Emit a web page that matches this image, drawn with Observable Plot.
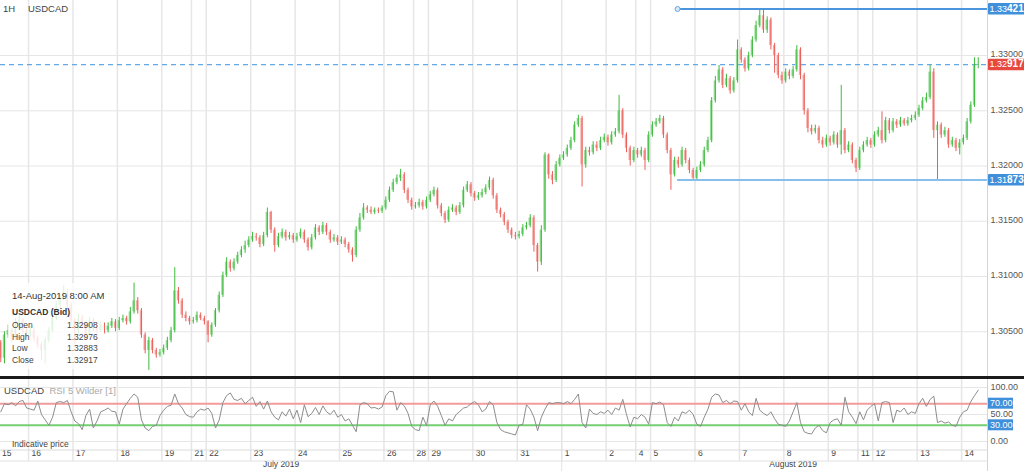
<!DOCTYPE html>
<html><head><meta charset="utf-8">
<script src="https://cdn.jsdelivr.net/npm/d3@7"></script>
<script src="https://cdn.jsdelivr.net/npm/@observablehq/plot@0.6"></script>
<style>
html,body{margin:0;padding:0;background:#fff;}
#chart{width:1024px;height:471px;overflow:hidden;position:relative;background:#fff;}
#sep{height:3px;background:#1b1b1b;}
svg{display:block}
</style></head><body><div id="chart"></div>
<script>
// ---------- DATA (2-hour slots, prices in pips above 1.3000) ----------
const pipBase = 1.3, pipSize = 0.0001;
const opens = [40,26,47,51,44,56,60,51,47,51,44,38,33,42,51,62,74,80,86,74,60,51,62,56,47,60,53,51,56,51,55,59,53,60,62,59,68,78,69,47,33,42,33,29,31,35,42,51,87,78,65,62,59,60,65,62,59,47,56,69,83,101,113,107,113,119,124,128,133,136,135,129,137,158,142,128,136,140,135,137,133,136,140,133,126,135,144,140,146,140,133,135,131,133,129,124,119,142,153,162,160,158,160,159,162,169,178,185,189,192,178,169,163,164,167,163,169,174,178,164,157,151,160,162,158,164,178,183,175,171,173,176,180,187,173,160,156,149,142,137,136,138,144,146,153,128,113,142,210,192,187,201,207,210,216,223,237,243,201,214,212,219,216,223,226,221,228,231,250,228,216,205,214,210,214,205,228,237,240,243,228,214,192,205,201,214,205,196,189,196,201,214,223,259,277,287,273,279,268,277,305,296,288,300,314,327,336,323,332,309,300,282,277,285,281,287,305,282,250,234,231,234,223,219,225,221,228,219,232,214,219,205,198,214,219,223,219,228,232,223,241,232,240,237,241,238,241,243,246,252,259,262,285,232,237,228,232,219,223,216,221,225,240,255,291];
const closes = [26,47,51,44,56,60,51,47,51,44,38,33,42,51,62,74,80,86,74,60,51,62,56,47,60,53,51,56,51,55,59,53,60,62,59,68,78,69,47,33,42,33,29,31,35,42,51,87,78,65,62,59,60,65,62,59,47,56,69,83,101,113,107,113,119,124,128,133,136,135,129,137,158,142,128,136,140,135,137,133,136,140,133,126,135,144,140,146,140,133,135,131,133,129,124,119,142,153,162,160,158,160,159,162,169,178,185,189,192,178,169,163,164,167,163,169,174,178,164,157,151,160,162,158,164,178,183,175,171,173,176,180,187,173,160,156,149,142,137,136,138,144,146,153,128,113,142,210,192,187,201,207,210,216,223,237,243,201,214,212,219,216,223,226,221,228,231,250,228,216,205,214,210,214,205,228,237,240,243,228,214,192,205,201,214,205,196,189,196,201,214,223,259,277,287,273,279,268,277,305,296,288,300,314,327,336,323,332,309,300,282,277,285,281,287,305,282,250,234,231,234,223,219,225,221,228,219,232,214,219,205,198,214,219,223,219,228,232,223,241,232,240,237,241,238,241,243,246,252,259,262,285,232,237,228,232,219,223,216,221,225,240,255,291,292];
const highs = [42,50,56,53,62,66,62,54,55,53,46,40,45,54,65,77,84,92,88,76,62,66,65,58,63,62,56,59,58,58,62,61,63,65,64,72,94,81,71,49,45,44,35,34,38,45,54,108,90,80,68,64,63,68,67,64,60,58,71,86,104,117,115,116,122,127,132,136,140,139,137,140,162,159,144,139,143,142,140,139,139,143,142,135,138,147,146,149,148,142,138,137,136,135,131,126,145,157,166,164,163,162,162,164,172,181,188,192,197,194,180,171,167,170,169,172,177,181,180,166,159,163,165,164,167,181,186,185,177,176,179,183,190,189,175,162,158,151,144,140,141,147,149,156,155,130,146,212,211,195,204,210,213,219,226,240,246,245,217,217,222,222,226,229,228,231,234,264,252,230,218,217,216,217,216,231,240,243,246,245,230,216,208,208,217,216,207,198,199,204,217,226,262,281,291,289,283,281,280,314,307,298,303,317,331,342,342,335,334,311,302,285,288,287,290,309,307,284,252,237,237,236,226,228,227,231,230,273,234,222,221,207,217,222,226,225,231,235,249,244,243,243,242,244,243,244,246,249,255,262,266,291,288,240,239,235,234,226,225,224,228,243,258,298,298];
const lows = [22,21,44,40,42,52,48,44,45,41,35,24,21,40,49,60,71,78,71,57,38,48,53,44,45,50,48,49,48,49,53,50,51,58,56,57,66,66,44,30,15,30,26,27,29,33,40,49,75,62,59,56,57,58,60,56,40,45,54,67,81,99,104,105,111,117,121,126,131,132,126,127,135,139,122,126,134,132,133,130,131,134,130,123,124,133,137,138,137,130,131,128,129,126,121,113,117,140,151,157,156,156,157,157,160,167,176,183,186,175,166,160,161,162,160,161,167,172,161,154,148,149,158,155,156,162,176,172,168,169,171,174,178,170,157,153,146,139,134,133,134,136,142,144,122,104,110,140,188,183,185,199,205,208,214,221,235,181,198,209,210,213,214,221,218,219,226,229,225,212,200,203,207,208,196,203,226,235,238,225,211,178,190,198,199,202,193,186,187,194,199,212,221,257,275,270,271,265,266,275,293,285,286,298,312,325,320,320,305,284,279,274,275,278,279,285,278,246,230,228,229,220,216,217,218,219,216,210,211,212,202,194,196,212,217,216,217,226,220,221,229,230,234,235,236,236,239,241,244,250,257,260,225,187,225,226,216,217,213,210,219,223,238,253,288];
const rsiValues = [55,70,68,72,66,74,76,62,60,58,75,50,40,30,45,72,74,72,76,55,38,33,22,48,60,25,38,55,58,62,56,55,32,60,70,80,88,82,40,25,20,28,30,48,58,65,67,88,70,62,50,46,45,55,60,58,62,52,25,40,72,85,90,78,76,80,70,76,82,65,74,60,75,55,45,40,55,47,60,42,58,35,68,46,52,63,50,66,55,50,58,45,50,38,42,30,18,68,72,70,62,63,60,64,85,93,92,58,72,66,52,28,22,20,45,30,68,75,65,48,30,42,38,50,56,62,64,70,74,68,55,60,74,68,35,22,18,16,14,12,30,32,68,60,45,20,45,60,72,70,72,72,70,74,70,78,88,35,25,60,52,50,55,52,58,50,62,58,78,50,27,45,42,50,45,32,72,70,73,68,35,28,45,38,55,52,58,50,32,28,45,60,82,88,86,72,76,70,75,74,58,70,55,48,80,58,52,48,55,42,32,30,28,38,55,72,35,18,15,14,25,30,20,16,35,40,42,30,82,55,45,33,55,40,58,65,70,38,72,74,72,35,58,55,62,50,55,52,70,80,65,78,84,35,38,34,36,30,28,45,55,58,74,85,95];
const dayLabels = ["15","16","17","18","19","21","22","23","24","25","26","28","29","30","31","1","2","4","5","6","7","8","9","11","12","13","14"];
const dayStarts = [0,8,20,32,44,52,56,68,80,92,104,112,116,128,140,152,164,172,176,188,200,212,224,232,236,248,260];
const monthLabels = ["July 2019","August 2019"];
const monthSpans = [[0.43,152],[152,277]];
const priceTicks = [1.305,1.31,1.315,1.32,1.325,1.33];
const priceTickLabels = ["1.30500","1.31000","1.31500","1.32000","1.32500","1.33000"];
const levelPrices = [1.33421, 1.31873];
const levelStart = 183.3;
const lastPrice = 1.32917;
const rsiTicks = [100,50,0];
const rsiTickLabels = ["100.00","50.00","0.00"];
const rsiBands = [70,30];
const rsiBandLabels = ["70.00","30.00"];
const infoTitle = "14-Aug-2019 8:00 AM";
const infoSymbol = "USDCAD (Bid)";
const infoNames = ["Open","High","Low","Close"];
const infoValues = ["1.32908","1.32976","1.32883","1.32917"];

// ---------- BUILD ----------
const FONT = "'Liberation Sans', Arial, Helvetica, sans-serif";
const xDomain = [0.43, 267.0];
const yDomain = [1.30095, 1.33498];
const toPrice = p => pipBase + p * pipSize;
const candles = closes.map((c, k) => ({k, open: toPrice(opens[k]), close: toPrice(c), high: toPrice(Math.max(highs[k], opens[k], c)), low: toPrice(Math.min(lows[k], opens[k], c))}));
const upC = candles.filter(d => d.close >= d.open);
const dnC = candles.filter(d => d.close < d.open);
const days = dayStarts.map((k, i) => ({k, label: dayLabels[i]}));
const priceTickData = priceTicks.map((v, i) => ({x: xDomain[1], y: v, label: priceTickLabels[i]}));
const levels = levelPrices.map(p => ({price: p, from: levelStart, to: xDomain[1]}));
const rsiData = rsiValues.map((v, k) => ({k, v}));

const main = Plot.plot({
  width: 1024, height: 376,
  marginLeft: 0, marginRight: 37, marginTop: 0, marginBottom: 0,
  x: {domain: xDomain, axis: null},
  y: {domain: yDomain, axis: null},
  style: {fontFamily: FONT, fontSize: "9px", background: "#fff", overflow: "visible"},
  marks: [
    Plot.ruleY(priceTicks, {stroke: "#e6e6e6", strokeWidth: 1}),
    Plot.ruleX(days.slice(1), {x: "k", stroke: "#e6e6e6", strokeWidth: 1.5}),
    Plot.ruleX([xDomain[1]], {stroke: "#d4d4d4"}),
    Plot.text(priceTickData, {x: "x", y: "y", text: "label", textAnchor: "start", dx: 3, dy: -1, fill: "#555", fontSize: 9}),
    Plot.ruleY([lastPrice], {stroke: "#62a9e6", strokeDasharray: "5,4", strokeWidth: 1.2}),
    Plot.rect(upC, {x1: d => d.k + 0.18, x2: d => d.k + 0.82, y1: "open", y2: "close", fill: "#96dd96"}),
    Plot.rect(dnC, {x1: d => d.k + 0.18, x2: d => d.k + 0.82, y1: "open", y2: "close", fill: "#f6aaa7"}),
    Plot.ruleX(upC, {x: d => d.k + 0.5, y1: "low", y2: "high", stroke: "#3dbb3d", strokeWidth: 1}),
    Plot.ruleX(dnC, {x: d => d.k + 0.5, y1: "low", y2: "high", stroke: "#ec5f59", strokeWidth: 1}),
    Plot.ruleY(levels.slice(0,1), {y: "price", x1: "from", x2: "to", stroke: "#4b95dc", strokeWidth: 2}),
    Plot.ruleY(levels.slice(1), {y: "price", x1: "from", x2: "to", stroke: "#86bfec", strokeWidth: 2}),
    Plot.dot(levels.slice(0,1), {x: "from", y: "price", r: 2.5, fill: "#d5e8f8", stroke: "#6aa8e2", strokeWidth: 1})
  ]
});

const rsi = Plot.plot({
  width: 1024, height: 92,
  marginLeft: 0, marginRight: 37, marginTop: 8, marginBottom: 30,
  x: {domain: xDomain, axis: null},
  y: {domain: [0, 100], axis: null},
  style: {fontFamily: FONT, fontSize: "9px", background: "#fff", overflow: "visible"},
  marks: [
    Plot.ruleY(rsiTicks, {stroke: "#e6e6e6"}),
    Plot.ruleX(days.slice(1), {x: "k", stroke: "#e6e6e6", strokeWidth: 1.5, insetTop: -8, insetBottom: -20}),
    Plot.ruleX([xDomain[1]], {stroke: "#d4d4d4", insetTop: -8, insetBottom: -30}),
    Plot.ruleX([monthSpans[1][0]], {stroke: "#e2e2e2", insetTop: -8, insetBottom: -30}),
    Plot.ruleY([rsiBands[0]], {stroke: "#f39a9a", strokeWidth: 2}),
    Plot.ruleY([rsiBands[1]], {stroke: "#74cf74", strokeWidth: 2}),
    Plot.line(rsiData, {x: d => d.k + 0.5, y: "v", stroke: "#8d8d8d", strokeWidth: 1}),
    Plot.text(days, {x: "k", text: "label", frameAnchor: "bottom", dy: 14, dx: 3, textAnchor: "start", fill: "#444", fontSize: 8.5}),
    Plot.text(monthLabels.map((m, i) => ({m, x: (monthSpans[i][0] + monthSpans[i][1]) / 2})), {x: "x", text: "m", frameAnchor: "bottom", dy: 25, fill: "#444", fontSize: 8.5}),
    Plot.text(rsiTicks.map((v, i) => ({x: xDomain[1], v, label: rsiTickLabels[i]})), {x: "x", y: "v", text: "label", textAnchor: "start", dx: 3, fill: "#555", fontSize: 9})
  ]
});

// ---------- overlays (labels, tags, info box) ----------
const ms = d3.select(main);
const my = main.scale("y"), mx = main.scale("x");
const xEdge = mx.apply(xDomain[1]);
function addText(sel, x, y, txt, size, fill, weight) {
  return sel.append("text").attr("x", x).attr("y", y).attr("dy", "0.35em")
    .attr("text-anchor", "start").attr("font-size", size).attr("fill", fill)
    .attr("font-weight", weight || "normal").style("font-family", FONT).text(txt);
}
function priceTag(svg, yPix, txt, color) {
  const g = svg.append("g");
  g.append("rect").attr("x", xEdge + 1).attr("y", yPix - 5.5).attr("width", 1024 - xEdge).attr("height", 11.5).attr("fill", color).attr("rx", 1);
  const t = g.append("text").attr("x", xEdge + 2.5).attr("y", yPix).attr("dy", "0.35em").attr("text-anchor", "start").attr("fill", "#fff").style("font-family", FONT);
  t.append("tspan").attr("font-size", 9).text(txt.slice(0, 4));
  t.append("tspan").attr("font-size", 10).attr("font-weight", "bold").text(txt.slice(4));
}
priceTag(ms, my.apply(levelPrices[0]), levelPrices[0].toFixed(5), "#3f8fdb");
priceTag(ms, my.apply(levelPrices[1]), levelPrices[1].toFixed(5), "#3f8fdb");
priceTag(ms, my.apply(lastPrice), lastPrice.toFixed(5), "#e8493f");

addText(ms, 3, 9, "1H", 9.5, "#444");
addText(ms, 28, 9, "USDCAD", 9.5, "#444");

const ib = ms.append("g");
ib.append("rect").attr("x", 8).attr("y", 283).attr("width", 96).attr("height", 86).attr("fill", "#fff").attr("fill-opacity", 0.82);
addText(ib, 12, 296, infoTitle, 9.5, "#333");
addText(ib, 12, 312, infoSymbol, 8.5, "#333", "bold");
infoNames.forEach((n, i) => {
  const yy = 325 + i * 11.7;
  addText(ib, 12, yy, n, 8.5, "#444");
  addText(ib, 67, yy, infoValues[i], 8.5, "#444");
});

const rs = d3.select(rsi);
const ry = rsi.scale("y");
const axTop = ry.apply(0) + 9, axMid = ry.apply(0) + 20;
rs.append("line").attr("x1", 0).attr("x2", xEdge).attr("y1", axTop).attr("y2", axTop).attr("stroke", "#dcdcdc");
rs.append("line").attr("x1", 0).attr("x2", xEdge).attr("y1", axMid).attr("y2", axMid).attr("stroke", "#e2e2e2");
rsiBands.forEach((b, i) => {
  const yy = ry.apply(b);
  rs.append("rect").attr("x", xEdge + 1).attr("y", yy - 5.5).attr("width", 25).attr("height", 11).attr("fill", "#3f8fdb");
  addText(rs, xEdge + 3, yy, rsiBandLabels[i], 9, "#fff");
});
const rt = rs.append("text").attr("x", 4).attr("y", 12).attr("dy", "0.35em").attr("text-anchor", "start").attr("font-size", 9.5).style("font-family", FONT);
rt.append("tspan").attr("fill", "#444").text("USDCAD ");
rt.append("tspan").attr("fill", "#aaa").text(" RSI 5 Wilder [1]");
addText(rs, 12, ry.apply(0) + 3, "Indicative price", 8.5, "#444");

const chart = document.getElementById("chart");
chart.append(main);
const sep = document.createElement("div"); sep.id = "sep"; chart.append(sep);
chart.append(rsi);
</script></body></html>
